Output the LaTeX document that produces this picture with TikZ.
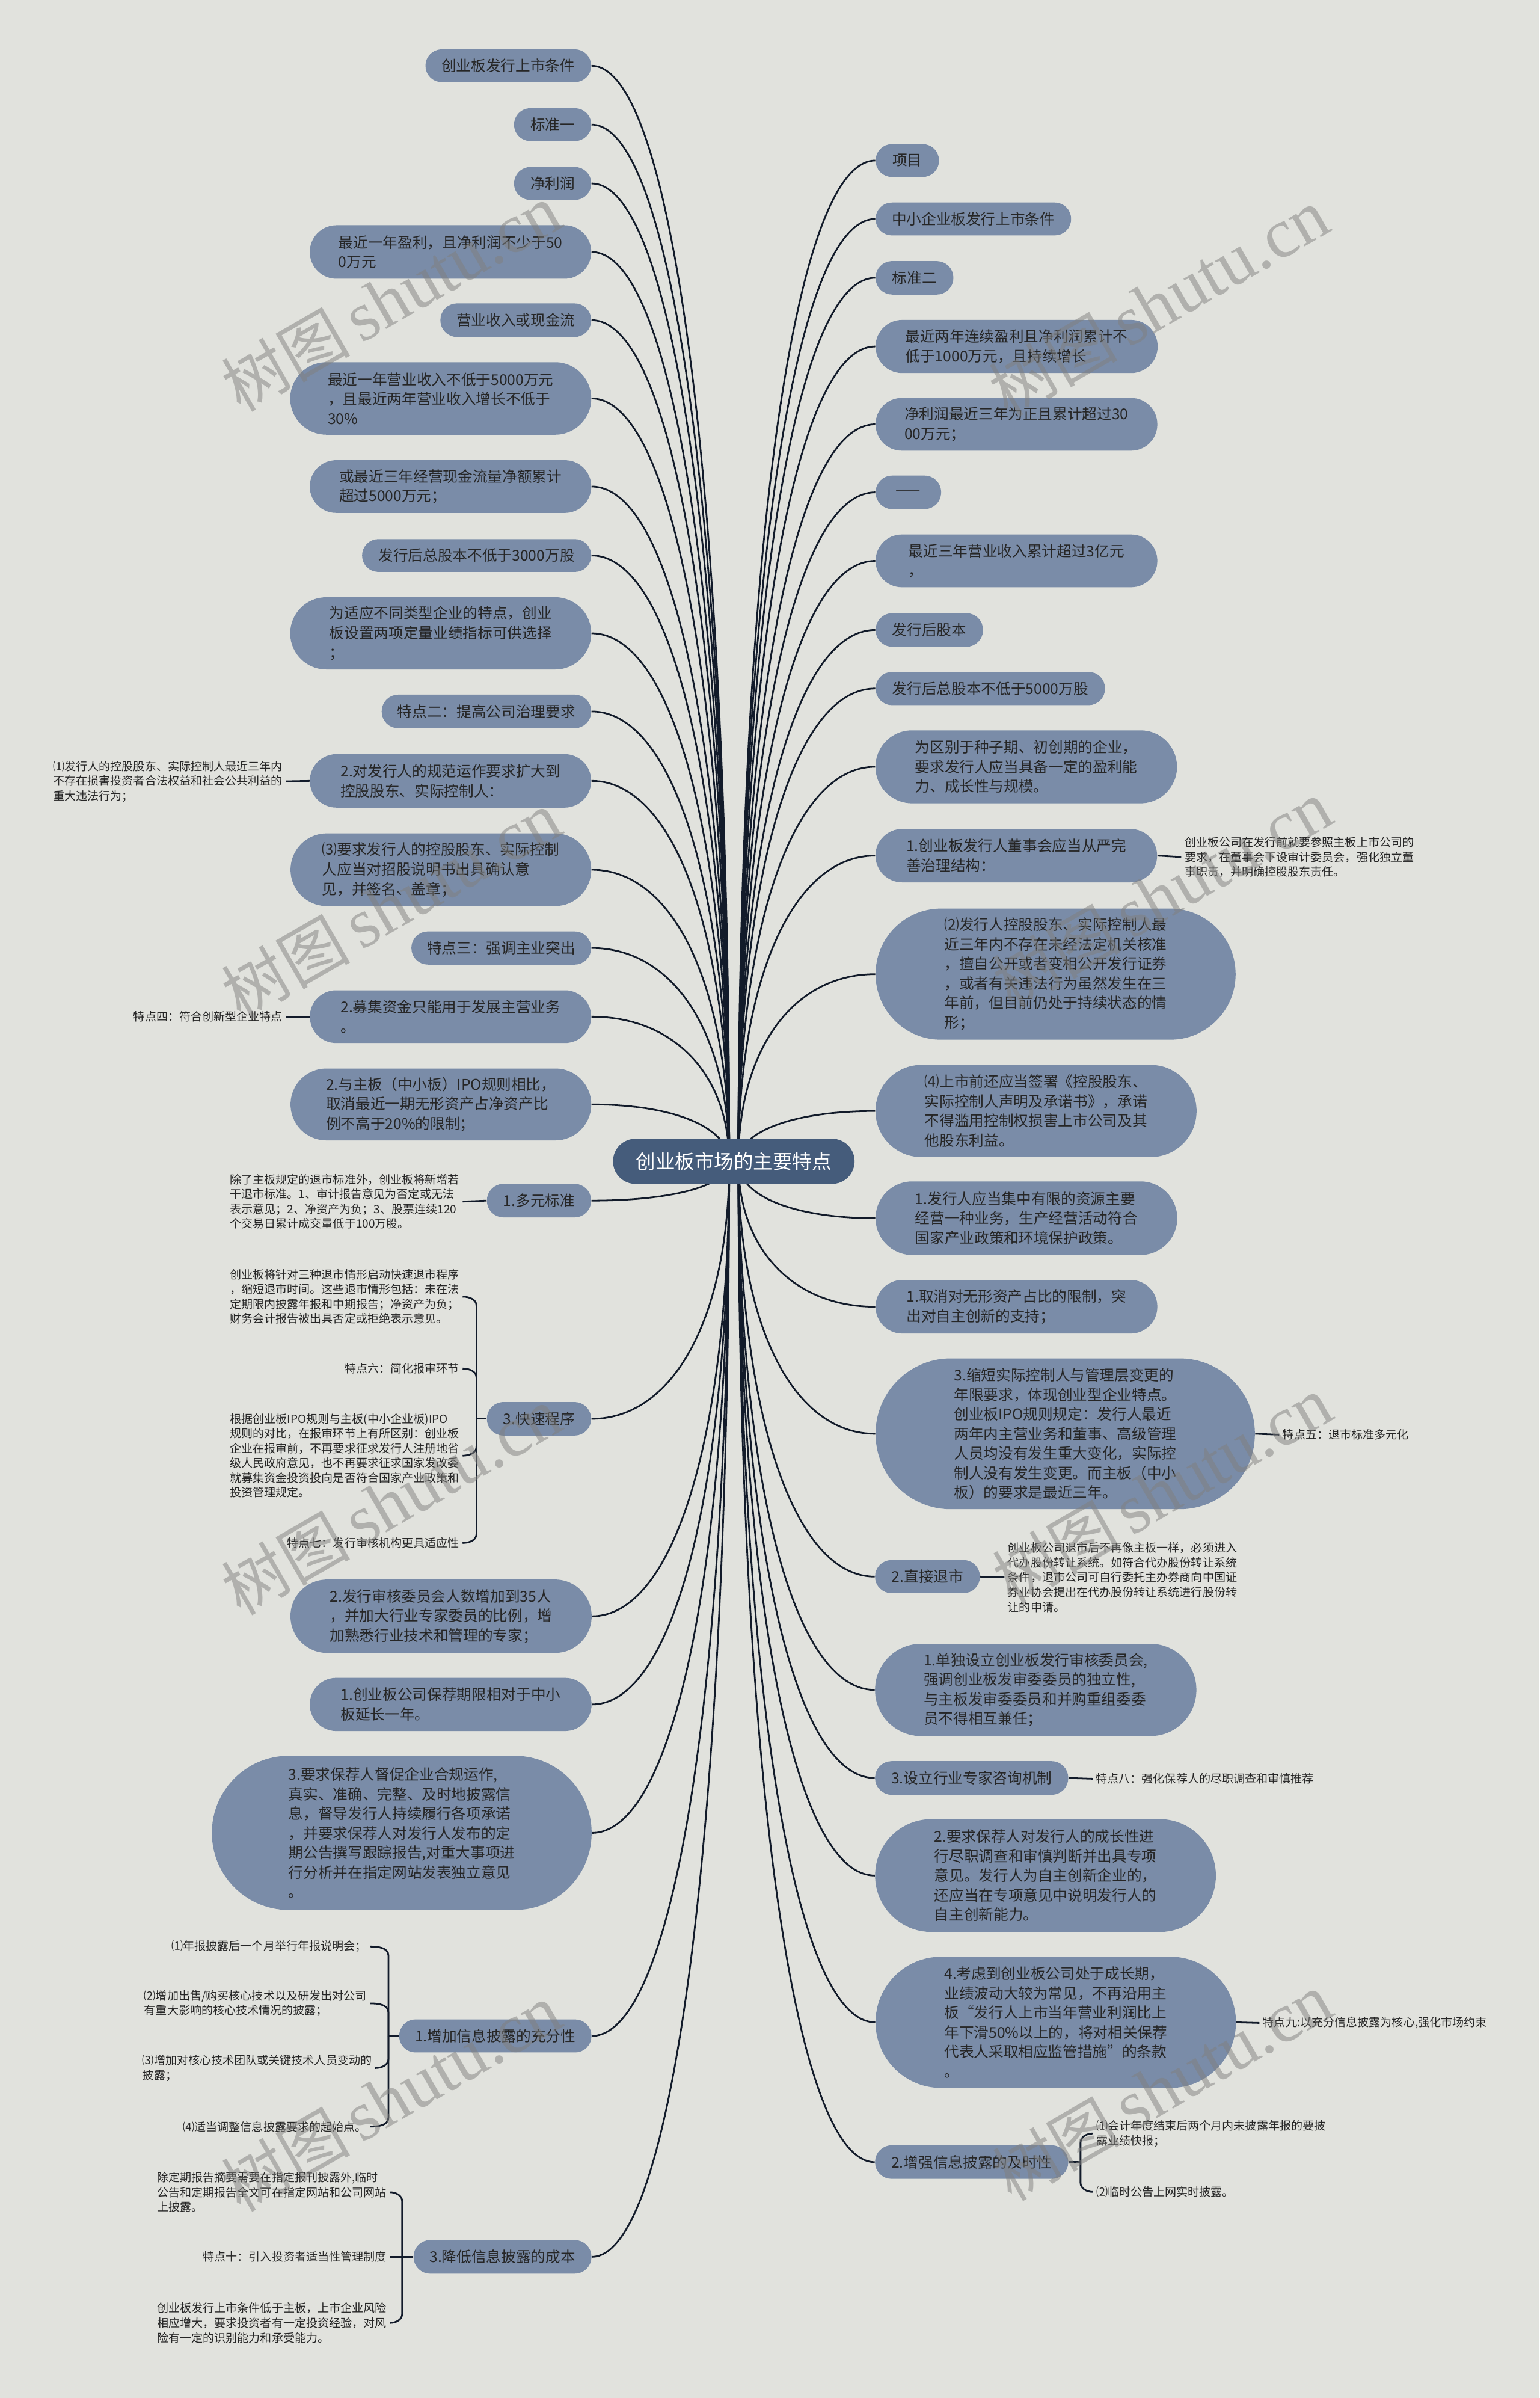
\documentclass[tikz,border=0pt]{standalone}
\usepackage{fontspec}
\setmainfont{Noto Sans CJK SC}
\newfontfamily\wmlatin{Liberation Serif}
\usetikzlibrary{calc}
\definecolor{bgc}{RGB}{225,226,221}
\definecolor{nodec}{RGB}{122,140,168}
\definecolor{rootc}{RGB}{69,92,123}
\definecolor{txtc}{RGB}{38,38,38}
\definecolor{linec}{RGB}{18,27,42}
\definecolor{wmc}{RGB}{128,128,126}
\pgfdeclarelayer{back}
\pgfdeclarelayer{conn}
\pgfsetlayers{back,conn,main}
\newcommand\pn[6]{\pgfmathsetmacro\pnrad{#5/2-0.05}\node[nd,minimum width=#4pt,minimum height=#5pt,rounded corners=\pnrad pt] (#1) at (#2,#3) {#6};}
\newcommand\mconn[2]{\draw[ln] (#1) .. controls ($(#1)!0.6!(#1|-#2)$) and ($(#2)!0.6!(#1|-#2)$) .. (#2);}
\newcommand\curlup[2]{\draw[ln] (#1) -- ([yshift=-6pt]#1|-#2.east) to[out=90,in=0] (#2.east);}
\newcommand\curldn[2]{\draw[ln] (#1) -- ([yshift=6pt]#1|-#2.east) to[out=-90,in=0] (#2.east);}
\newcommand\curlupR[2]{\draw[ln] (#1) -- ([yshift=-6pt]#1|-#2.west) to[out=90,in=180] (#2.west);}
\newcommand\curldnR[2]{\draw[ln] (#1) -- ([yshift=6pt]#1|-#2.west) to[out=-90,in=180] (#2.west);}
\newcommand\wmtext{\fontsize{42}{42}\selectfont 树图\,{\wmlatin\fontsize{46}{46}\selectfont shutu.cn}}
\begin{document}
\begin{tikzpicture}[x=1pt,y=-1pt,
  nd/.style={fill=nodec,text=txtc,font=\fontsize{9.7}{12.8}\selectfont,align=left,inner sep=0pt},
  lf/.style={text=txtc,font=\fontsize{7.5}{9.65}\selectfont,align=left,inner xsep=2pt,inner ysep=1pt},
  ln/.style={draw=linec,line width=1.1pt},
  wm/.style={text=wmc,opacity=0.5,rotate=30,inner sep=0pt}]
\useasboundingbox (0,0) rectangle (1007,1568.3);
\begin{pgfonlayer}{back}
\fill[bgc] (0,0) rectangle (1007,1568.3);
\end{pgfonlayer}

% ---------- left main nodes ----------
\pn{L1}{332.5}{43}{108.4}{21.5}{创业板发行上市条件}
\pn{L2}{361.5}{81.5}{50.5}{21.5}{标准一}
\pn{L3}{361.5}{120}{50.5}{21.5}{净利润}
\pn{L4}{294.7}{164.8}{184.1}{35}{最近一年盈利，且净利润不少于50\\0万元}
\pn{L5}{337.4}{209.4}{98.7}{22}{营业收入或现金流}
\pn{L6}{288.3}{260.6}{196.9}{47.4}{最近一年营业收入不低于5000万元\\，且最近两年营业收入增长不低于\\30\%}
\pn{L7}{294.7}{318.2}{184.1}{34.5}{或最近三年经营现金流量净额累计\\超过5000万元；}
\pn{L8}{311.8}{363.3}{149.9}{21.5}{发行后总股本不低于3000万股}
\pn{L9}{288.3}{414.2}{196.9}{47.2}{为适应不同类型企业的特点，创业\\板设置两项定量业绩指标可供选择\\；}
\pn{L10}{318.2}{465.3}{137.1}{22}{特点二：提高公司治理要求}
\pn{L11}{294.7}{510.7}{184}{35}{2.对发行人的规范运作要求扩大到\\控股股东、实际控制人：}
\pn{L12}{288.4}{568.8}{196.7}{47.5}{⑶要求发行人的控股股东、实际控制\\人应当对招股说明书出具确认意\\见，并签名、盖章；}
\pn{L13}{327.9}{620}{117.6}{21.7}{特点三：强调主业突出}
\pn{L14}{294.7}{664.9}{184}{34.5}{2.募集资金只能用于发展主营业务\\。}
\pn{L15}{288.4}{722.3}{196.7}{47}{2.与主板（中小板）IPO规则相比，\\取消最近一期无形资产占净资产比\\例不高于20\%的限制；}
\pn{L16}{352.6}{785.2}{68.2}{22}{1.多元标准}
\pn{L17}{352.6}{927.9}{68.2}{22}{3.快速程序}
\pn{L18}{288.5}{1057}{197}{48}{2.发行审核委员会人数增加到35人\\，并加大行业专家委员的比例，增\\加熟悉行业技术和管理的专家；}
\pn{L19}{294.8}{1114.7}{184.3}{34.8}{1.创业板公司保荐期限相对于中小\\板延长一年。}
\pn{L20}{262.8}{1198.7}{248.4}{100.8}{3.要求保荐人督促企业合规运作,\\真实、准确、完整、及时地披露信\\息，督导发行人持续履行各项承诺\\，并要求保荐人对发行人发布的定\\期公告撰写跟踪报告,对重大事项进\\行分析并在指定网站发表独立意见\\。}
\pn{L21}{324}{1331.5}{125.8}{21.6}{1.增加信息披露的充分性}
\pn{L22}{328.7}{1476}{116.4}{22}{3.降低信息披露的成本}

% ---------- right main nodes ----------
\pn{R1}{593.5}{105}{41.5}{21.5}{项目}
\pn{R2}{636.7}{143.2}{127.9}{21.5}{中小企业板发行上市条件}
\pn{R3}{598.2}{181.7}{50.9}{21.9}{标准二}
\pn{R4}{665}{226.6}{184.5}{34.7}{最近两年连续盈利且净利润累计不\\低于1000万元，且持续增长}
\pn{R5}{664.9}{277.5}{184.3}{34.5}{净利润最近三年为正且累计超过30\\00万元；}
\pn{R6}{594.2}{322}{42.9}{22}{——}
\pn{R7}{664.9}{366.8}{184.3}{34.5}{最近三年营业收入累计超过3亿元\\，}
\pn{R8}{607.9}{412}{70.3}{22}{发行后股本}
\pn{R9}{647.8}{450.3}{150.1}{21.8}{发行后总股本不低于5000万股}
\pn{R10}{671.3}{501.5}{197.2}{47.7}{为区别于种子期、初创期的企业，\\要求发行人应当具备一定的盈利能\\力、成长性与规模。}
\pn{R11}{664.8}{559.6}{184.2}{34.9}{1.创业板发行人董事会应当从严完\\善治理结构：}
\pn{R12}{690.5}{637.1}{235.5}{85.8}{⑵发行人控股股东、实际控制人最\\近三年内不存在未经法定机关核准\\，擅自公开或者变相公开发行证券\\，或者有关违法行为虽然发生在三\\年前，但目前仍处于持续状态的情\\形；}
\pn{R13}{677.7}{726.6}{210}{60.3}{⑷上市前还应当签署《控股股东、\\实际控制人声明及承诺书》，承诺\\不得滥用控制权损害上市公司及其\\他股东利益。}
\pn{R14}{671.4}{796.7}{197.3}{48.1}{1.发行人应当集中有限的资源主要\\经营一种业务，生产经营活动符合\\国家产业政策和环境保护政策。}
\pn{R15}{664.9}{854.6}{184.3}{35}{1.取消对无形资产占比的限制，突\\出对自主创新的支持；}
\pn{R16}{696.8}{937.7}{248.1}{98.6}{3.缩短实际控制人与管理层变更的\\年限要求，体现创业型企业特点。\\创业板IPO规则规定：发行人最近\\两年内主营业务和董事、高级管理\\人员均没有发生重大变化，实际控\\制人没有发生变更。而主板（中小\\板）的要求是最近三年。}
\pn{R17}{606.7}{1031.1}{68.6}{21.7}{2.直接退市}
\pn{R18}{677.5}{1105.2}{210.2}{60.3}{1.单独设立创业板发行审核委员会,\\强调创业板发审委委员的独立性,\\与主板发审委委员和并购重组委委\\员不得相互兼任；}
\pn{R19}{635.6}{1162.8}{126.4}{22}{3.设立行业专家咨询机制}
\pn{R20}{683.9}{1226.6}{222.9}{73.8}{2.要求保荐人对发行人的成长性进\\行尽职调查和审慎判断并出具专项\\意见。发行人为自主创新企业的，\\还应当在专项意见中说明发行人的\\自主创新能力。}
\pn{R21}{690.6}{1322.6}{235.7}{85.8}{4.考虑到创业板公司处于成长期，\\业绩波动大较为常见，不再沿用主\\板“发行人上市当年营业利润比上\\年下滑50\%以上的，将对相关保荐\\代表人采取相应监管措施”的条款\\。}
\pn{R22}{635.6}{1414}{126.4}{22}{2.增强信息披露的及时性}

% ---------- root ----------
\node[fill=rootc,text=white,font=\fontsize{12.8}{14}\selectfont,minimum width=158pt,minimum height=29.5pt,rounded corners=14.7pt,inner sep=0pt] (root) at (480,759.5) {创业板市场的主要特点};

% ---------- leaves, left ----------
\node[lf,anchor=east] (lf11) at (187,511) {⑴发行人的控股股东、实际控制人最近三年内\\不存在损害投资者合法权益和社会公共利益的\\重大违法行为；};
\node[lf,anchor=east] (lf14) at (187,664.9) {特点四：符合创新型企业特点};
\node[lf,anchor=east] (lf16) at (302.6,785.8) {除了主板规定的退市标准外，创业板将新增若\\干退市标准。1、审计报告意见为否定或无法\\表示意见；2、净资产为负；3、股票连续120\\个交易日累计成交量低于100万股。};
\node[lf,anchor=east] (l17a) at (302.6,848) {创业板将针对三种退市情形启动快速退市程序\\，缩短退市时间。这些退市情形包括：未在法\\定期限内披露年报和中期报告；净资产为负；\\财务会计报告被出具否定或拒绝表示意见。};
\node[lf,anchor=east] (l17b) at (302.6,895) {特点六：简化报审环节};
\node[lf,anchor=east] (l17c) at (302.6,952) {根据创业板IPO规则与主板(中小企业板)IPO\\规则的对比，在报审环节上有所区别：创业板\\企业在报审前，不再要求征求发行人注册地省\\级人民政府意见，也不再要求征求国家发改委\\就募集资金投资投向是否符合国家产业政策和\\投资管理规定。};
\node[lf,anchor=east] (l17d) at (302.6,1009.1) {特点七：发行审核机构更具适应性};
\node[lf,anchor=east] (l21a) at (242,1273) {⑴年报披露后一个月举行年报说明会；};
\node[lf,anchor=east] (l21b) at (242,1310.2) {⑵增加出售/购买核心技术以及研发出对公司\\有重大影响的核心技术情况的披露；};
\node[lf,anchor=east] (l21c) at (245.4,1352.5) {⑶增加对核心技术团队或关键技术人员变动的\\披露；};
\node[lf,anchor=east] (l21d) at (242,1390.8) {⑷适当调整信息披露要求的起始点。};
\node[lf,anchor=east] (l22a) at (255,1433.7) {除定期报告摘要需要在指定报刊披露外,临时\\公告和定期报告全文可在指定网站和公司网站\\上披露。};
\node[lf,anchor=east] (l22b) at (255,1476) {特点十：引入投资者适当性管理制度};
\node[lf,anchor=east] (l22c) at (255,1519.2) {创业板发行上市条件低于主板，上市企业风险\\相应增大，要求投资者有一定投资经验，对风\\险有一定的识别能力和承受能力。};

% ---------- leaves, right ----------
\node[lf,anchor=west] (r11) at (772.7,560.5) {创业板公司在发行前就要参照主板上市公司的\\要求，在董事会下设审计委员会，强化独立董\\事职责，并明确控股股东责任。};
\node[lf,anchor=west] (r16) at (836.8,938.3) {特点五：退市标准多元化};
\node[lf,anchor=west] (r17) at (657,1031.6) {创业板公司退市后不再像主板一样，必须进入\\代办股份转让系统。如符合代办股份转让系统\\条件，退市公司可自行委托主办券商向中国证\\券业协会提出在代办股份转让系统进行股份转\\让的申请。};
\node[lf,anchor=west] (r19) at (714.7,1163.3) {特点八：强化保荐人的尽职调查和审慎推荐};
\node[lf,anchor=west] (r21) at (823.8,1323) {特点九:以充分信息披露为核心,强化市场约束};
\node[lf,anchor=west] (r22a) at (714.9,1395.3) {⑴会计年度结束后两个月内未披露年报的要披\\露业绩快报；};
\node[lf,anchor=west] (r22b) at (714.9,1433.5) {⑵临时公告上网实时披露。};

% ---------- junction points ----------
\coordinate (sl) at (477,760);
\coordinate (sr) at (483,760);
\coordinate (j17) at (311.7,927.9);
\coordinate (j21) at (254.1,1331.5);
\coordinate (j22) at (263.1,1476);
\coordinate (jr22) at (706.8,1414);

% ---------- connectors ----------
\begin{pgfonlayer}{conn}
\foreach \n in {L1,L2,L3,L4,L5,L6,L7,L8,L9,L10,L11,L12,L13,L14,L15,L16,L17,L18,L19,L20,L21,L22}{\mconn{sl}{\n.east}}
\foreach \n in {R1,R2,R3,R4,R5,R6,R7,R8,R9,R10,R11,R12,R13,R14,R15,R16,R17,R18,R19,R20,R21,R22}{\mconn{sr}{\n.west}}
\draw[ln] (L11.west) -- (lf11.east);
\draw[ln] (L14.west) -- (lf14.east);
\draw[ln] (L16.west) -- (lf16.east);
\draw[ln] (L17.west) -- (j17);
\curlup{j17}{l17a}
\curlup{j17}{l17b}
\curldn{j17}{l17c}
\curldn{j17}{l17d}
\draw[ln] (L21.west) -- (j21);
\curlup{j21}{l21a}
\curlup{j21}{l21b}
\curldn{j21}{l21c}
\curldn{j21}{l21d}
\draw[ln] (L22.west) -- (l22b.east);
\curlup{j22}{l22a}
\curldn{j22}{l22c}
\draw[ln] (R11.east) -- (r11.west);
\draw[ln] (R16.east) -- (r16.west);
\draw[ln] (R17.east) -- (r17.west);
\draw[ln] (R19.east) -- (r19.west);
\draw[ln] (R21.east) -- (r21.west);
\draw[ln] (R22.east) -- (jr22);
\curlupR{jr22}{r22a}
\curldnR{jr22}{r22b}
\end{pgfonlayer}

% ---------- watermarks ----------
\node[wm] (wm1) at (256,195) {\wmtext};
\node[wm] (wm2) at (758,198) {\wmtext};
\node[wm] (wm3) at (256,592) {\wmtext};
\node[wm] (wm4) at (760,585) {\wmtext};
\node[wm] (wm5) at (256,982) {\wmtext};
\node[wm] (wm6) at (760,975) {\wmtext};
\node[wm] (wm7) at (256,1372) {\wmtext};
\node[wm] (wm8) at (760,1365) {\wmtext};
\end{tikzpicture}
\end{document}
